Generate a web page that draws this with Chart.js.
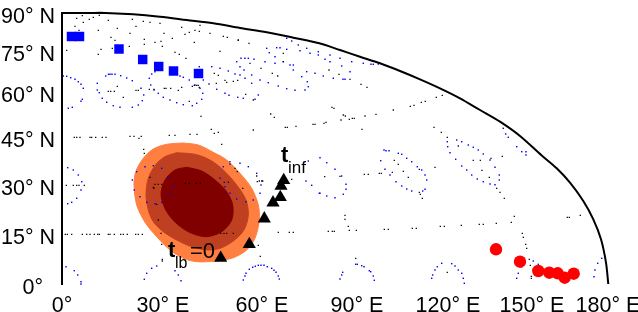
<!DOCTYPE html>
<html><head><meta charset="utf-8">
<style>html,body{margin:0;padding:0;background:#fff}#w{width:638px;height:312px}canvas{display:block}</style>
<script src="https://cdn.jsdelivr.net/npm/chart.js@4/dist/chart.umd.min.js"></script>
</head><body><div id="w"><canvas id="c" width="638" height="312"></canvas></div>
<script>
const xTickValues=[0,101,200,295,386,470,546];
const xTickLabels=['0°','30° E','60° E','90° E','120° E','150° E','180° E'];
const yTickValues=[0,50,99,147,192,233,271];
const yTickLabels=['0°  ','15° N','30° N','45° N','60° N','75° N','90° N'];

const boundary=[[0,271],[38,271.3],[71.3,269.7],[98,267.3],[124.7,264],[151.3,260.7],[178,256],[204.7,251.7],[231.3,246.3],[257.3,240.7],[278,234],[298,227.3],[318,220.7],[338,213],[358,204.7],[378,195.7],[398,185.7],[418,174],[438,162.3],[458,148],[479.7,128.5],[494.7,115.7],[508,101.3],[521.3,83],[531.3,64.7],[539,44.7],[544,21.3],[546.3,0]];

const outerZone=[[121.3,141],[136.3,139],[151.3,131.7],[164.7,124],[178,110.7],[189.7,95.7],[196.3,79],[197.3,64],[193,45.7],[184.7,34],[171.3,26.3],[154.7,23],[134.7,22.3],[121.3,25.7],[108,34],[94.7,47.3],[83,61.7],[74.7,79],[72,99],[73.7,112.3],[81.3,125.7],[91.3,135],[104.7,139.7]];
const middleZone=[[114.7,131.3],[133,129.7],[148,124],[161.3,114],[174.7,99],[184,84],[186.3,69],[182,54],[171.3,43],[158,35.7],[145.3,34],[129.7,37.3],[114.7,44],[101.3,52.3],[91.3,62.3],[86.3,74],[84,89],[86.3,105.7],[94,119.7],[103,127.3]];
const innerZone=[[124.7,116.7],[139.7,113],[153,104],[164.7,92.3],[170.7,79],[169.7,64],[159.7,52.3],[144.7,47.3],[129.7,50.7],[116.3,59],[104.7,72.3],[99,89],[103,104],[113,114]];

const blueSquares=[[9.5,247.5],[17.5,247.5],[57,235],[80.7,224.5],[96.7,217.5],[111.5,213],[136.5,210.5]];
const redCircles=[[434,34.7],[458,22.3],[476.3,13],[487.3,11.3],[495.7,10.7],[502.7,6.3],[511.7,10.3]];
const blackTriangles=[[158.7,26],[187.3,39.7],[202.3,65.3],[211,81.3],[218.3,86.7],[219,98],[221.7,103.7]];

const indicatrixDots=[
[1.3,208],[4.7,207.7],[8.7,206.3],[13,204.7],[16.3,202.3],[19,199.7],[21.3,195.7],[20.3,184.7],[19,182.7],[10.3,176.7],[6.3,175.7],
[35.3,200.7],[35.3,194],[37.3,191.3],[40.3,185.7],[44.7,181.7],[51.3,178.3],[58,176.7],[70.3,176.7],[76.3,179],[80.3,183.3],[81.7,189],[79,195.7],[70.3,203.3],[64.7,206],[58.7,208.3],[46.5,209.7],[48,209.7],[50,209.7],[53,209.7],[43.7,208],
[87.3,205.7],[88.7,199],[92,194],[96.3,190.7],[101.3,186.7],[108,184],[114.7,181.3],[121.3,179.3],[130.3,178.3],[134.7,180.7],[139.7,184.7],[140.7,190.7],[138,195.7],[133,199],[127.3,204],[121.3,206.7],[118,208],[93,212.3],[89.7,210],
[137.3,217.3],[141.3,204],[147,200],[154.7,194.7],[163,190.7],[167,188.7],[175.7,186.7],[149.7,217.3],[158,215.7],[166.3,213],[173,210],[178,209],[183,205.7],[189.7,200.7],[196.3,189],[193,184.7],[181.3,185.7],
[174.7,222.3],[178,217.3],[182,214],[189.7,209],[198,204],[206.3,201.3],[216.3,198],[224.7,195.3],[233,193.7],[243,194],[246.3,197.3],[245.3,202.3],[239.7,207.3],[231.3,214],[228,219],[213,220.7],[203,222.3],[192,224.7],[186.3,225.7],[183,225.7],[179,225.7],
[204.7,235.7],[207.3,231.3],[213,227.3],[221.3,222.3],[231.3,219],[244.7,212.3],[253,210.7],[261.3,208],[271.3,205.7],[281,204.7],[283,204.7],[288,212.3],[279.7,218],[268,222.3],[263,224.7],[256.3,229],[248,230.7],[238,233.3],[224.7,234.7],[214.7,236.3],[218,236.3],
[224.7,245.7],[229.7,243],[236.3,239],[244.7,235.7],[256.3,232.3],[268,229],[278,225.7],[289.7,222.3],[301.3,220.7],[309,219.7],[311.3,219.7],[316.3,220],
[322,134],[324,133.3],[327,133.3],[336.3,130.7],[339.7,129.7],[344.7,125.7],[349.7,122.3],[355.3,117.3],[359.7,114],[363,109],[364.7,104],[363,94.7],[360.7,93],[349.7,93],[344.7,95],[339.7,98],[334,102.3],[328,109],[323,114.7],[318.7,123.3],
[385.3,142.3],[385.7,137.3],[388,131.3],[393.7,124.7],[399.7,118],[404.7,114],[409.7,109],[415.3,105],[421.3,102.3],[428,100],[433,99.3],[437.3,104],[437.3,109],[433,116.7],[428,124],[421.3,130],[416.3,134],[411.3,136.7],[406.3,139],[399.7,142.3],[394.7,144],
[441.3,155.7],[443.7,150],[446.3,146.7],[454.7,137.3],[459.7,132.3],[464,132.3],[464,129],
[258,90.7],[264.7,88],[273,86.3],[281.3,89.7],[284,94.7],[284,99.7],[279.7,108],[273,114.7],[264.7,121.3],[258,126.3],[246.3,123],[244,103],[249.7,98.7],[257.3,90.7],
[74.7,112.3],[70.3,104],[72.3,94],[78,87.3],[84.7,81.7],[93,80.3],[99.7,81.7],[108,89],[110.3,97.3],[106.3,107.3],[99.7,115.7],[91.3,118.3],[83,117.3],
[158,105.7],[161.3,117.3],[168,120],[178,120.7],[186.3,117.3],[194.7,110.7],[199,99],[198,90.7],[191.3,84],[184,82.3],[174.7,85],[168,90.7],[163,97.3],
[5.7,116.3],[11.3,114],[16.3,109],[19.7,102.3],[19,94],[14.7,85.7],[9.7,81.7],[5.7,80.3],
[4,17.3],[12.3,13.3],[15.7,9],[19,2.3],[19,0],
[82.3,4.7],[84.7,10.7],[89.7,15.7],[94.7,18],[113,13.3],[116.3,9],[119,3.3],
[181.3,4],[183,8],[184,10.7],[187.3,14.7],[190.7,16.7],[193.3,17.7],[196.3,18.7],[199,18.7],[202,18.7],[205.3,17.3],[209.7,15.7],[212,13.7],[214,11.7],[216.3,8],[217.3,5],
[278,5],[279.7,9],[280.7,11.7],[293.7,19.7],[295.3,19.7],[299.7,18.3],[302,17.3],[307.3,13.3],[308.7,12.3],[311.3,8],[312.3,3.7],
[369.7,5.7],[370.7,9],[373,14],[375.3,17.3],[379.7,20.7],[389.7,20.3],[393,18],[396.3,14],[399.7,10.7],[401.3,5.7],[402.3,0.7],
[454.7,5.7],[456.3,10.7],[459.7,17.3],[463,22.3],[471.3,23],[476.3,19.7],[483,12.3],[484.7,7.3],
[532,7.3],[533,14],[535.7,20.7],[539.7,25.7]];

const graticuleDots=[
[5.7,271],[8,271],[14.7,265.7],[20.3,268.3],[21.3,261.7],[27.3,264.7],[31.3,266.7],[37.3,268.7],[46.3,263.7],[55.3,255.7],[36.3,253.7],[13,257.7],[17,253.7],[4.7,233.7],[36.3,229.7],[39,234.7],[49,246.7],[53,243.7],[50.3,235.7],[54,236.7],[56.3,236.7],[67.3,237.7],[68,250.7],[70.3,264.7],[74,257.7],[81.3,262.7],[88,261.7],[98,260.7],[102,250.7],[93,241.7],[99,242.7],[100.3,237.7],[82.3,244.7],[82.3,239.7],[110.3,245.7],[119.7,256.7],[123,249.7],[127.3,251.7],[133,253.7],[137.3,252.7],[138,258.7],[148,250.7],[161.3,247.7],[165.3,246.7],[176.3,243.7],[132.3,241.7],[158,232.7],[113,231.7],[117.3,229.7],[124,225.7],[81,224.7],
[46.3,192.7],[48.7,192.7],[52.3,192.7],[55.3,197.7],[61.3,186.7],[74,193.7],[76.3,193.7],[87.3,194.7],[92,194.7],[102.3,195.7],[104,195.7],[108.7,195.7],[116.3,193.7],[119.7,196.7],[127.3,182.7],[130.3,197.7],[132.3,198.7],[134.7,198.7],[136.3,198.7],[137.3,196.7],[139,167.7],[152.3,210.7],[156.3,208.7],[154.3,200.7],[163,203.7],[164.7,201.7],[171.3,202.7],[175.7,203.7],
[176.3,244],[187,240.7],[221.3,230.7],[188,220.7],[199,215.7],[210.3,210.7],[215.7,208],[183.7,189.7],[191.3,184],[221.3,222.3],[267,214],[277,209.7],[288,204.7],[299,199.7],[305,196.7],[270,176.7],[272,175.7],[281.3,169],[283.3,168],[279,164],[287.3,164.7],[290.3,165.7],[292.3,165.7],[303,168],[314,169.7],[331.3,174],[348.3,177.7],[352,178.7],[264,161.7],[262,160.7],[253,159.7],[251,159.7],[234,157.7],[225.3,156.7],[223.3,156.7],[300,154.7],[191.3,154],[208.7,170],[212.3,166.7],
[380.3,188.7],[374.3,186.7],[363.3,182.7],[359.3,181.7],[372,156.7],[379.3,151.7],[385.3,146.7],[396.3,138],[440.3,127.7],[411.3,123.7],[418.3,123.7],[429,125.7],[420,113.7],[427.3,106.7],[434.7,95.7],[438,91.7],[442.3,85.7],[373,116.7],[332.3,123.7],[336.3,119.7],[341.3,112.7],[330.3,111.7],[346.3,106.7],[357.3,114.7],[317.3,110.7],[319.3,110.7],[302.3,109.7],[306.3,109.7],[278,107.7],[357.3,91.7],[358.3,89.7],[360.3,85.7],[283,68.7],[283,64.7],[452.3,67.7],[262.7,107.3],
[12.3,146.7],[14.7,146.7],[18,146.7],[28,146.7],[29.7,146.7],[33.7,146.7],[40.3,146.7],[44,146.7],[68,147.7],[72,147.7],[77,145.7],[79.3,147.7],[107.3,148.7],[113,148.7],[128,149.7],[135,149.7],[149.3,154.7],[152.3,150.7],[156.3,151.7],[159.7,139.7],[81.7,134.7],[82.3,130.7],
[4.3,98.7],[11.3,98.7],[14.7,98.7],[17,98.7],[22.3,98.7],[93,99.7],[96.3,99.7],[99.7,99.7],[88,106.7],[92,95.7],[91.3,96.7],[94.7,79.7],[96.3,64],[123.3,100.7],[127.3,100.7],[134,100.7],[138.3,100.7],[162.3,101.7],[166.3,101.7],[168,122.3],[199.7,103],[229.7,104.7],[194.7,108],[197.3,103],[200.7,103],[195.3,102.3],[180.7,95.7],[175.3,112.3],[173,115.7],
[3.3,49.7],[5.3,49.7],[9.7,49.7],[20.3,49.7],[24.7,49.7],[28,49.7],[32.3,49.7],[35.7,49.7],[37.3,49.7],[46.3,49.7],[48,49.7],[52.3,49.7],[58.7,49.7],[61.3,49.7],[65.3,49.7],[73.7,49.7],[76.3,49.7],[80.3,49.7],[99,50.7],[99.7,39.7],[100.3,24.7],[100.3,23],[158.7,50.7],[162,50.7],[164.7,50.7],[171.3,50.7],
[196.3,38.7],[198.3,27.7],[216.3,51.7],[227.3,51.7],[231.3,51.7],[266.3,52.7],[270.3,52.7],[272.3,52.7],[286.3,57.7],[287.3,53.7],[294.3,53.7],[322.3,54.7],[326.3,54.7],[350.3,55.7],[354.3,55.7],[293.7,25.7],
[378.3,57.7],[382.3,57.7],[399.3,58.7],[417.3,59.7],[421.3,59.7],[434.3,60.7],[449.3,61.7],[505.3,66.7],[507.3,66.7],[518.3,68.7],[460.3,50.7],[461.3,46.7],[463.7,39.7],[464.7,35.7],[467.3,24.7],[468.3,18.7],[469.3,7.7],[469.3,5.7],[385.3,11.7]];

const noteTexts=['t','inf','t','lb','=0'];
const noteAnchors=[[219,122],[226,111],[106,27],[113,16],[128,26]];
const noteFonts=['bold 22px "Liberation Sans"','17px "Liberation Sans"','bold 22px "Liberation Sans"','16px "Liberation Sans"','22px "Liberation Sans"'];

const pts=a=>a.map(p=>({x:p[0],y:p[1]}));
const closed=a=>pts(a.concat([a[0]]));
const zone=(data,color,order)=>({data:closed(data),showLine:true,fill:'shape',backgroundColor:color,borderColor:color,borderWidth:1,pointRadius:0,tension:0.3,order,clip:false});
const marks=(data,style,radius,color,order)=>({data:pts(data),showLine:false,pointStyle:style,pointRadius:radius,pointHoverRadius:radius,pointBorderWidth:0,pointBackgroundColor:color,backgroundColor:color,order,clip:false});

const notesPlugin={id:'notes',afterDatasetsDraw(c){
  const g=c.ctx;g.save();g.fillStyle='#000';g.textAlign='left';g.textBaseline='alphabetic';
  noteTexts.forEach((t,i)=>{g.font=noteFonts[i];g.fillText(t,c.scales.x.getPixelForValue(noteAnchors[i][0]),c.scales.y.getPixelForValue(noteAnchors[i][1]));});
  g.restore();}};
const noMargins=s=>{s.paddingTop=s.paddingBottom=s.paddingLeft=s.paddingRight=0;};

new Chart(document.getElementById('c'),{
  type:'scatter',
  plugins:[notesPlugin],
  data:{datasets:[
    zone(outerZone,'#ff7f40',9),
    zone(middleZone,'#bf4020',8),
    zone(innerZone,'#800000',7),
    marks(indicatrixDots,'rect',1,'#0000ff',6),
    marks(graticuleDots,'rect',0.9,'#000000',5),
    {data:pts(boundary),showLine:true,borderColor:'#000',borderWidth:2,pointRadius:0,tension:0.3,fill:false,order:4,clip:false},
    marks(blueSquares,'rect',6.7,'#0000ff',3),
    marks(redCircles,'circle',6.2,'#ff0000',2),
    marks(blackTriangles,'triangle',7.6,'#000000',1)
  ]},
  options:{
    responsive:false,animation:false,devicePixelRatio:1,
    layout:{autoPadding:false,padding:{top:13,right:30,left:0,bottom:0}},
    plugins:{legend:{display:false},tooltip:{enabled:false}},
    scales:{
      x:{type:'linear',min:0,max:546,grid:{display:false},border:{display:false},
        afterBuildTicks(s){s.ticks=xTickValues.map(v=>({value:v}));},
        afterFit(s){s.height=28;noMargins(s);},
        ticks:{autoSkip:false,maxRotation:0,padding:1,color:'#000',font:{family:'"Liberation Sans"',size:21.5},
          callback(v){return xTickLabels[xTickValues.indexOf(v)];}}},
      y:{type:'linear',min:0,max:271,grid:{display:false,drawTicks:false},border:{display:true,color:'#000',width:2},
        afterBuildTicks(s){s.ticks=yTickValues.map(v=>({value:v}));},
        afterFit(s){s.width=62;noMargins(s);},
        ticks:{autoSkip:false,padding:7,labelOffset:4.5,color:'#000',font:{family:'"Liberation Sans"',size:21.5},
          callback(v){return yTickLabels[yTickValues.indexOf(v)];}}}
    }
  }
});
</script></body></html>
